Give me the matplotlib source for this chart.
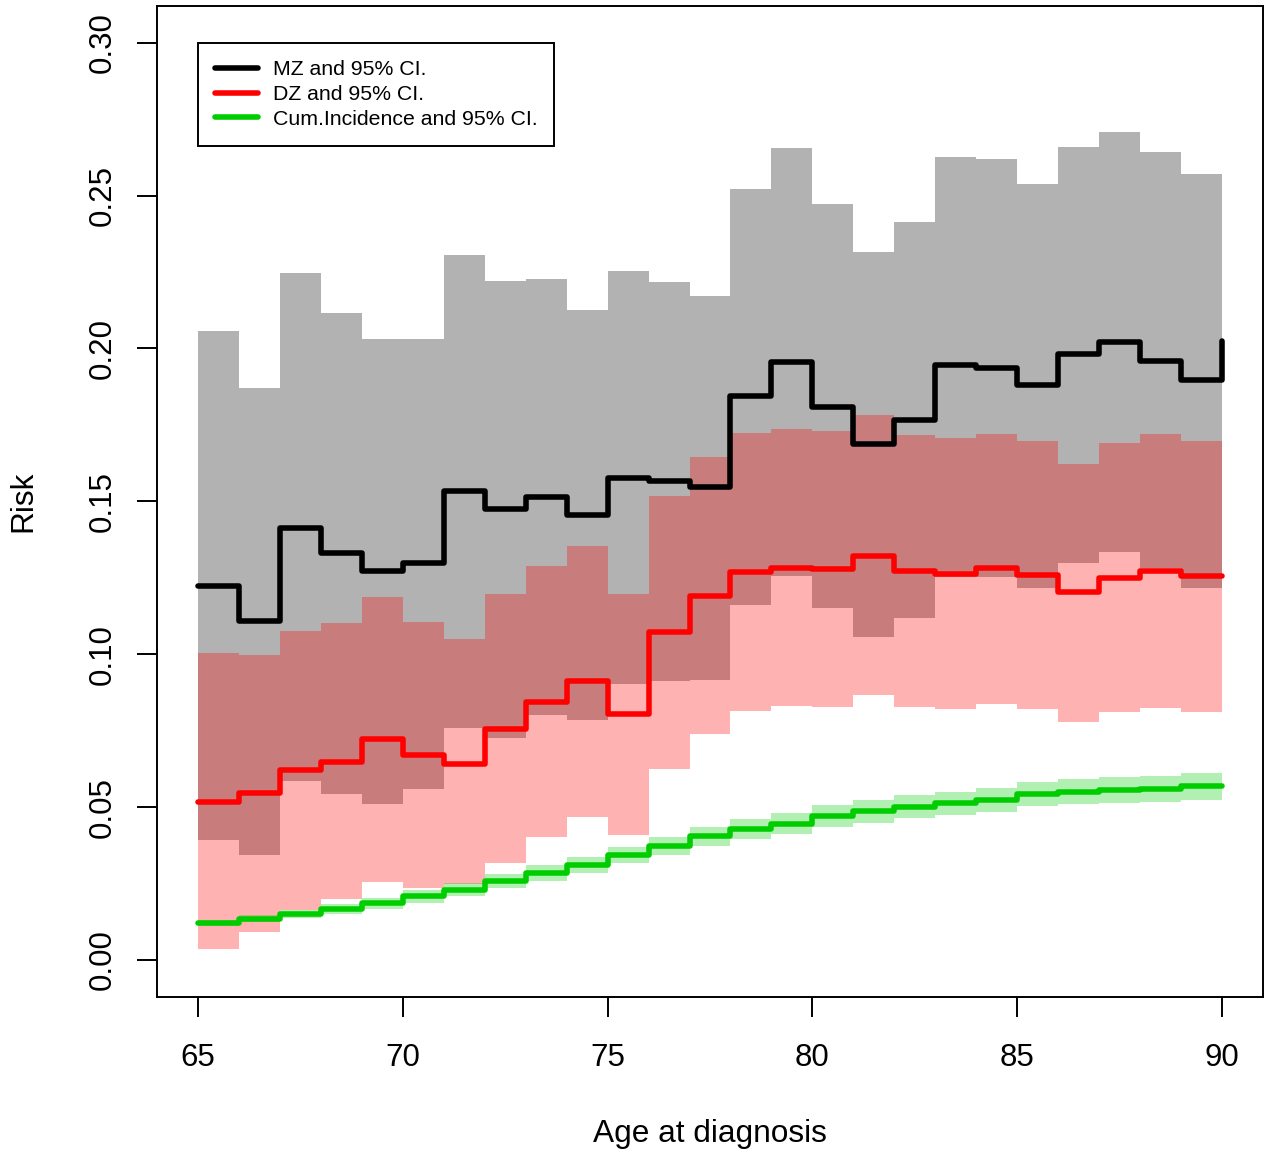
import numpy as np
import matplotlib
matplotlib.use("Agg")
import matplotlib.pyplot as plt

plt.rcParams['font.family'] = ['Liberation Sans', 'DejaVu Sans']

ages = [65, 66, 67, 68, 69, 70, 71, 72, 73, 74, 75, 76, 77, 78, 79, 80,
        81, 82, 83, 84, 85, 86, 87, 88, 89, 90]

mz = [0.1224, 0.1108, 0.1413, 0.1332, 0.1273, 0.1298, 0.1534, 0.1474, 0.1513,
      0.1456, 0.1576, 0.1567, 0.1548, 0.1845, 0.1956, 0.1810, 0.1686, 0.1767,
      0.1947, 0.1937, 0.1880, 0.1981, 0.2020, 0.1959, 0.1898, 0.2023]
mz_upper = [0.2056, 0.1870, 0.2248, 0.2117, 0.2030, 0.2030, 0.2306, 0.2221,
            0.2228, 0.2126, 0.2252, 0.2218, 0.2170, 0.2521, 0.2654, 0.2472,
            0.2316, 0.2414, 0.2627, 0.2619, 0.2537, 0.2660, 0.2707, 0.2641,
            0.2571, 0.2736]
mz_lower = [0.0393, 0.0344, 0.0584, 0.0542, 0.0510, 0.0559, 0.0760, 0.0726,
            0.0802, 0.0786, 0.0903, 0.0914, 0.0916, 0.1161, 0.1257, 0.1150,
            0.1057, 0.1119, 0.1253, 0.1252, 0.1216, 0.1299, 0.1334, 0.1282,
            0.1216, 0.1300]

dz = [0.0518, 0.0545, 0.0620, 0.0648, 0.0722, 0.0672, 0.0640, 0.0756, 0.0843,
      0.0911, 0.0805, 0.1074, 0.1189, 0.1269, 0.1283, 0.1278, 0.1322, 0.1273,
      0.1264, 0.1281, 0.1259, 0.1205, 0.1250, 0.1272, 0.1257, 0.1257]
dz_upper = [0.1003, 0.0996, 0.1076, 0.1101, 0.1188, 0.1106, 0.1050, 0.1197,
            0.1288, 0.1353, 0.1197, 0.1518, 0.1644, 0.1725, 0.1736, 0.1729,
            0.1783, 0.1717, 0.1706, 0.1720, 0.1697, 0.1623, 0.1691, 0.1720,
            0.1699, 0.1699]
dz_lower = [0.0036, 0.0092, 0.0165, 0.0200, 0.0254, 0.0235, 0.0250, 0.0318,
            0.0401, 0.0469, 0.0410, 0.0625, 0.0738, 0.0814, 0.0830, 0.0826,
            0.0866, 0.0828, 0.0821, 0.0837, 0.0821, 0.0780, 0.0810, 0.0825,
            0.0812, 0.0812]

cuminc = [0.0121, 0.0135, 0.0151, 0.0168, 0.0186, 0.0208, 0.0230, 0.0258,
          0.0285, 0.0312, 0.0344, 0.0374, 0.0405, 0.0428, 0.0446, 0.0470,
          0.0486, 0.0502, 0.0513, 0.0522, 0.0543, 0.0551, 0.0555, 0.0560,
          0.0568, 0.0568]
cuminc_lower = [0.0111, 0.0123, 0.0137, 0.0152, 0.0168, 0.0188, 0.0208, 0.0234,
                0.0260, 0.0286, 0.0317, 0.0345, 0.0374, 0.0396, 0.0412, 0.0434,
                0.0449, 0.0464, 0.0475, 0.0483, 0.0503, 0.0510, 0.0513, 0.0517,
                0.0523, 0.0523]
cuminc_upper = [0.0131, 0.0147, 0.0165, 0.0184, 0.0204, 0.0228, 0.0252, 0.0282,
                0.0310, 0.0338, 0.0371, 0.0403, 0.0436, 0.0460, 0.0480, 0.0506,
                0.0523, 0.0540, 0.0551, 0.0561, 0.0583, 0.0592, 0.0597, 0.0603,
                0.0613, 0.0613]

x_ticks = [65, 70, 75, 80, 85, 90]
y_ticks = [0.00, 0.05, 0.10, 0.15, 0.20, 0.25, 0.30]
y_tick_labels = ["0.00", "0.05", "0.10", "0.15", "0.20", "0.25", "0.30"]
legend_labels = ["MZ and 95% CI.", "DZ and 95% CI.", "Cum.Incidence and 95% CI."]

W, H = 1272, 1152
fig = plt.figure(figsize=(W / 100, H / 100), dpi=100)
ax = fig.add_axes([157 / W, 1 - 996.7 / H, (1263 - 157) / W, (996.7 - 6) / H])
ax.set_xlim(64, 91)
ax.set_ylim(-0.012, 0.312)

lw = 4.0
ax.fill_between(ages, mz_lower, mz_upper, step='post', color='black', alpha=0.3, linewidth=0)
ax.plot(ages, mz, drawstyle='steps-post', color='black', lw=lw, solid_capstyle='round',
        solid_joinstyle='round', label=legend_labels[0])
ax.fill_between(ages, dz_lower, dz_upper, step='post', color='red', alpha=0.3, linewidth=0)
ax.plot(ages, dz, drawstyle='steps-post', color='#FF0000', lw=lw, solid_capstyle='round',
        solid_joinstyle='round', label=legend_labels[1])
ax.fill_between(ages, cuminc_lower, cuminc_upper, step='post', color='#00CD00', alpha=0.3, linewidth=0)
ax.plot(ages, cuminc, drawstyle='steps-post', color='#00CD00', lw=lw, solid_capstyle='round',
        solid_joinstyle='round', label=legend_labels[2])

for s in ax.spines.values():
    s.set_linewidth(1.4)
ax.set_xticks(x_ticks)
ax.set_xticklabels([str(v) for v in x_ticks])
ax.set_yticks(y_ticks)
ax.set_yticklabels(y_tick_labels, rotation=90, va='center')
ax.tick_params(axis='both', length=14.4, width=1.4, labelsize=22.5, direction='out')
ax.tick_params(axis='x', pad=19)
ax.tick_params(axis='y', pad=14)

fig.text(710 / W, 1 - 1134 / H, "Age at diagnosis", ha='center', va='center', fontsize=22.8)
fig.text(23 / W, 1 - 501 / H, "Risk", ha='center', va='center', rotation=90, fontsize=22.8)

leg = ax.legend(loc='upper left', bbox_to_anchor=(198 / W, 1 - 43 / H),
                bbox_transform=fig.transFigure, fontsize=15.3, frameon=True,
                fancybox=False, edgecolor='black', framealpha=1, borderaxespad=0,
                handlelength=2.0, handletextpad=0.72, labelspacing=0.28,
                borderpad=0.8)
leg.get_frame().set_linewidth(1.4)

fig.savefig("out.png", dpi=100)
